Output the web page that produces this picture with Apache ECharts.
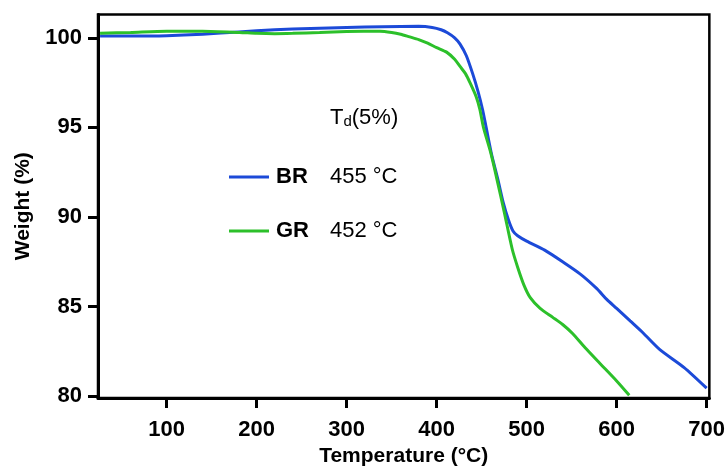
<!DOCTYPE html>
<html>
<head>
<meta charset="utf-8">
<script src="https://cdn.jsdelivr.net/npm/echarts@6/dist/echarts.min.js"></script>
<style>html,body{margin:0;padding:0;background:#fff}#c{width:728px;height:472px}</style>
</head>
<body>
<div id="c"></div>
<script>
const brT = [26, 60, 100, 140, 180, 220, 260, 300, 340, 380, 395, 405, 412, 420, 426, 433, 440, 446, 451, 455, 461, 468, 474, 480, 485, 490, 500, 520, 540, 560, 578, 589, 600, 615, 630, 648, 675, 700];
const brW = [100.1, 100.1, 100.12, 100.2, 100.33, 100.45, 100.52, 100.58, 100.62, 100.64, 100.58, 100.45, 100.28, 100.0, 99.65, 99.0, 98.0, 97.0, 96.0, 95.0, 93.5, 92.1, 90.8, 89.8, 89.2, 88.95, 88.65, 88.15, 87.5, 86.8, 86.0, 85.4, 84.9, 84.2, 83.5, 82.6, 81.6, 80.45];
const grT = [26, 60, 100, 140, 181, 200, 220, 240, 270, 300, 337, 350, 360, 370, 380, 390, 400, 411, 420, 426, 432, 437, 444, 448, 452, 460, 467, 475, 484, 490, 497, 504, 515, 529, 540, 551, 565, 582, 600, 614];
const grW = [100.25, 100.3, 100.37, 100.37, 100.3, 100.25, 100.23, 100.25, 100.3, 100.35, 100.37, 100.3, 100.2, 100.05, 99.9, 99.7, 99.45, 99.2, 98.8, 98.4, 98.0, 97.5, 96.7, 96.0, 95.0, 93.6, 92.1, 90.3, 88.2, 87.2, 86.2, 85.5, 84.9, 84.4, 84.0, 83.5, 82.7, 81.8, 80.85, 80.05];
const xTicks = [100, 200, 300, 400, 500, 600, 700];
const yTicks = [80, 85, 90, 95, 100];
const seriesNames = ['BR', 'GR'];
const tdValues = ['455 °C', '452 °C'];

const FONT = 'Liberation Sans, Arial, sans-serif';
const chart = echarts.init(document.getElementById('c'), null, {renderer: 'canvas'});
chart.setOption({
  animation: false,
  backgroundColor: '#fff',
  grid: {left: 98, right: 18, top: 14.5, bottom: 73, show: true, borderColor: '#000', borderWidth: 2.5, containLabel: false},
  xAxis: {
    type: 'value', min: 23.7, max: 703,
    name: 'Temperature (°C)', nameLocation: 'middle', nameGap: 48,
    nameTextStyle: {fontFamily: FONT, fontWeight: 'bold', fontSize: 21, color: '#000'},
    axisLine: {show: true, lineStyle: {color: '#000', width: 3}},
    axisTick: {show: true, inside: false, length: 10, lineStyle: {color: '#000', width: 3}, customValues: xTicks},
    axisLabel: {fontFamily: FONT, fontWeight: 'bold', fontSize: 22, color: '#000', margin: 21, customValues: xTicks},
    splitLine: {show: false}
  },
  yAxis: {
    type: 'value', min: 79.9, max: 101.3,
    name: 'Weight (%)', nameLocation: 'middle', nameGap: 64, nameRotate: 90,
    nameTextStyle: {fontFamily: FONT, fontWeight: 'bold', fontSize: 21, color: '#000'},
    axisLine: {show: true, lineStyle: {color: '#000', width: 3}},
    axisTick: {show: true, inside: false, length: 10, lineStyle: {color: '#000', width: 3}, customValues: yTicks},
    axisLabel: {fontFamily: FONT, fontWeight: 'bold', fontSize: 22, color: '#000', margin: 16, customValues: yTicks},
    splitLine: {show: false}
  },
  legend: {
    show: true, orient: 'vertical', left: 224, top: 160,
    itemWidth: 40, itemHeight: 3, itemGap: 30, icon: 'rect',
    data: seriesNames,
    formatter: function (name) { return '{b|' + name + '}{n|' + tdValues[seriesNames.indexOf(name)] + '}'; },
    textStyle: {
      lineHeight: 24, padding: [0, 0, 0, 2],
      rich: {
        b: {fontFamily: FONT, fontWeight: 'bold', fontSize: 22, color: '#000', width: 54, lineHeight: 24},
        n: {fontFamily: FONT, fontSize: 22, color: '#000', lineHeight: 24}
      }
    }
  },
  graphic: [{
    type: 'text', left: 330, top: 107,
    style: {
      text: '{a|T}{s|d}{a|(5%)}',
      rich: {
        a: {fontFamily: FONT, fontSize: 22, fill: '#000', verticalAlign: 'bottom'},
        s: {fontFamily: FONT, fontSize: 15, fill: '#000', padding: [9, 0, 0, 0], verticalAlign: 'bottom'}
      }
    }
  }],
  series: [
    {name: seriesNames[0], type: 'line', showSymbol: false, smooth: 0.25, color: '#1c4ad8',
     lineStyle: {width: 3, color: '#1c4ad8'}, data: brT.map((t, i) => [t, brW[i]])},
    {name: seriesNames[1], type: 'line', showSymbol: false, smooth: 0.25, color: '#2cc02a',
     lineStyle: {width: 3, color: '#2cc02a'}, data: grT.map((t, i) => [t, grW[i]])}
  ]
});
</script>
</body>
</html>
